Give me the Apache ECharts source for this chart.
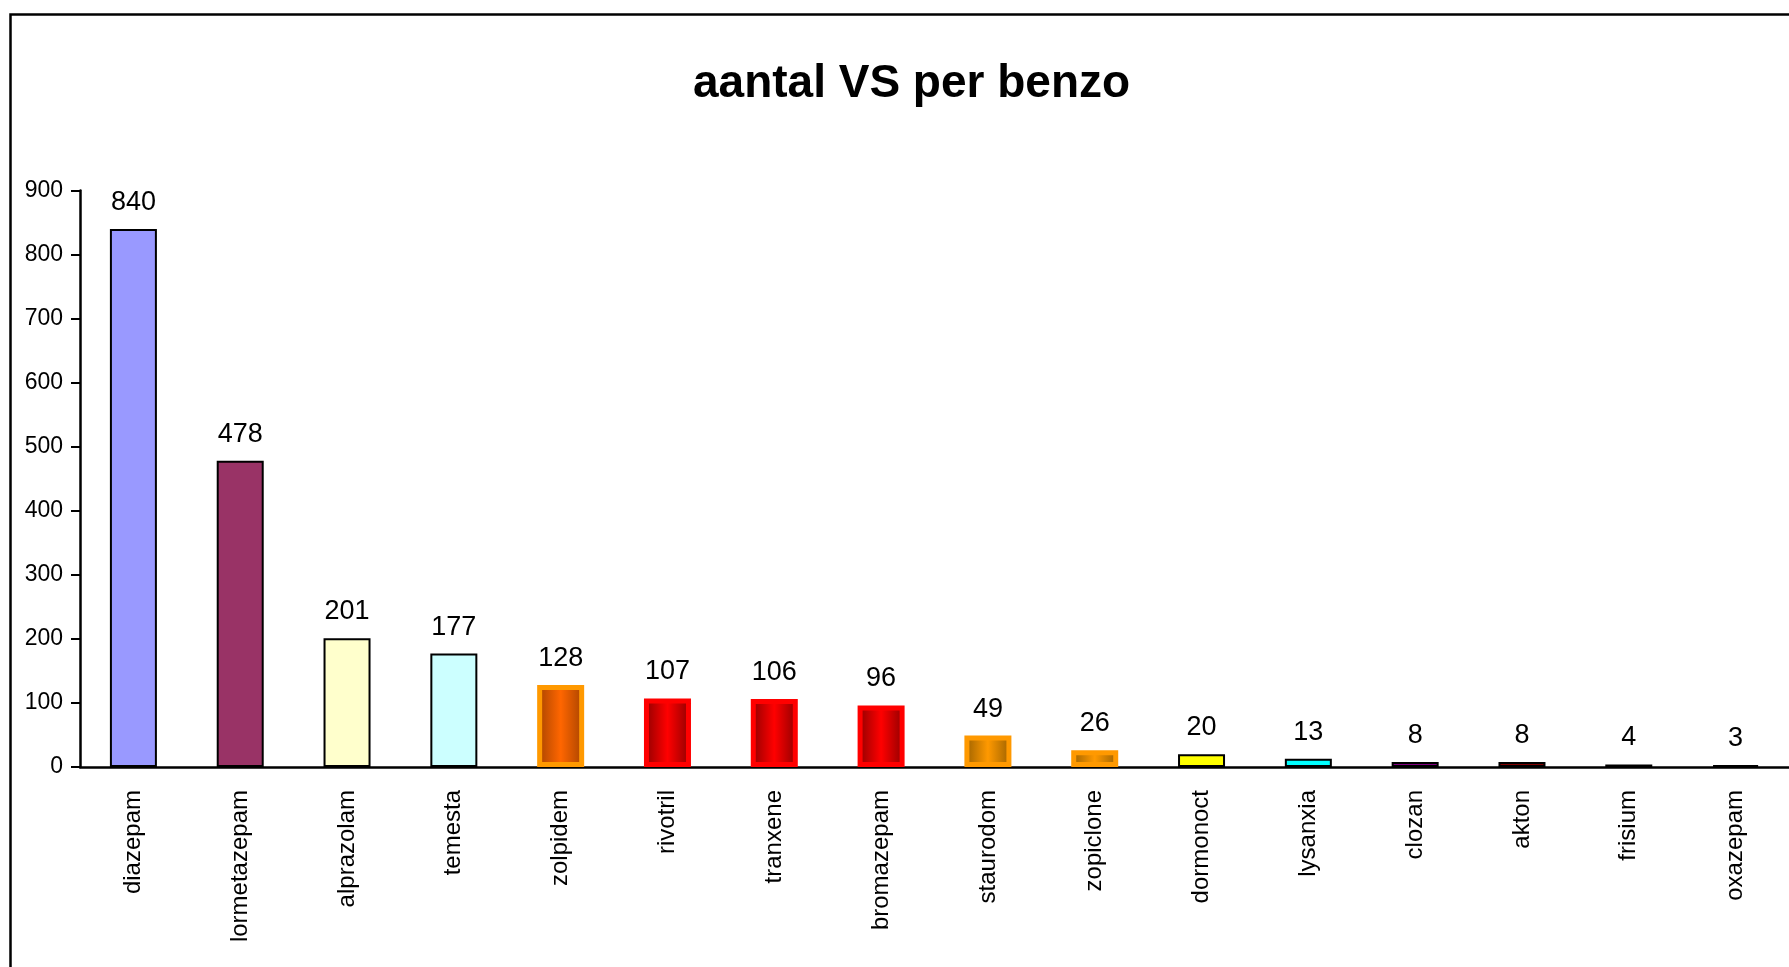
<!DOCTYPE html>
<html>
<head>
<meta charset="utf-8">
<title>aantal VS per benzo</title>
<script src="https://cdn.jsdelivr.net/npm/echarts@6/dist/echarts.min.js"></script>
<style>
    html, body { margin: 0; padding: 0; background: #fff; }
    #chart { width: 1789px; height: 967px; }
</style>
</head>
<body>
<div id="chart"></div>
<script>
// data
var categories = ['diazepam', 'lormetazepam', 'alprazolam', 'temesta', 'zolpidem', 'rivotril', 'tranxene', 'bromazepam',
    'staurodom', 'zopiclone', 'dormonoct', 'lysanxia', 'clozan', 'akton', 'frisium', 'oxazepam'];
var values = [840, 478, 201, 177, 128, 107, 106, 96, 49, 26, 20, 13, 8, 8, 4, 3];
var yTicks = [0, 100, 200, 300, 400, 500, 600, 700, 800, 900];

// bar looks, one per category
var barLooks = ['#9999FF', '#993366', '#FFFFCC', '#CCFFFF', 'orange', 'red', 'red', 'red',
    'gold', 'gold', '#FFFF00', '#00FFFF', '#800080', '#800000', '#993366', '#333399'];

(function () {
    'use strict';

    var arial = '"Liberation Sans", Arial, sans-serif';

    //横向渐变 (dark edge - bright middle - dark edge)
    function shade(edge, mid) {
        return new echarts.graphic.LinearGradient(0, 0, 1, 0, [
            { offset: 0, color: edge },
            { offset: 0.5, color: mid },
            { offset: 1, color: edge }
        ]);
    }

    function styleFor(look) {
        if (look === 'orange') {
            return { color: shade('#A64300', '#FF6600'), borderColor: '#FF9900', borderWidth: 5 };
        }
        if (look === 'red') {
            return { color: shade('#8C0000', '#FF0000'), borderColor: '#FF0000', borderWidth: 5 };
        }
        if (look === 'gold') {
            return { color: shade('#9A6000', '#FF9900'), borderColor: '#FF9900', borderWidth: 5 };
        }
        return { color: look, borderColor: '#000', borderWidth: 2 };
    }

    var data = [];
    for (var i = 0; i < values.length; i++) {
        data.push({ value: values[i], itemStyle: styleFor(barLooks[i]) });
    }

    var myChart = echarts.init(document.getElementById('chart'));

    var option = {
        animation: false,
        backgroundColor: '#fff',
        title: {
            text: 'aantal VS per benzo',
            left: 688,
            top: 56,
            textStyle: {
                fontFamily: arial,
                fontWeight: 'bold',
                fontSize: 46,
                color: '#000'
            }
        },
        graphic: [{
            type: 'rect',
            silent: true,
            shape: { x: 10.5, y: 14.5, width: 2000, height: 2000 },
            style: { fill: 'none', stroke: '#000', lineWidth: 2.5 }
        }],
        grid: {
            left: 80,
            top: 190.5,
            width: 1714,
            height: 576.5,
            containLabel: false
        },
        xAxis: {
            type: 'category',
            data: categories,
            axisLine: { lineStyle: { color: '#000', width: 2.5 } },
            axisTick: { length: 10, lineStyle: { color: '#000', width: 2 } },
            axisLabel: {
                rotate: 90,
                margin: 23,
                interval: 0,
                fontFamily: arial,
                fontSize: 24,
                color: '#000'
            }
        },
        yAxis: {
            type: 'value',
            min: yTicks[0],
            max: yTicks[yTicks.length - 1],
            interval: yTicks[1] - yTicks[0],
            splitLine: { show: false },
            axisLine: { show: true, lineStyle: { color: '#000', width: 2.5 } },
            axisTick: { show: true, length: 9, lineStyle: { color: '#000', width: 2 } },
            axisLabel: {
                margin: 17,
                fontFamily: arial,
                fontSize: 23,
                color: '#000'
            }
        },
        series: [{
            type: 'bar',
            data: data,
            barWidth: 47,
            label: {
                show: true,
                position: 'top',
                distance: 13,
                fontFamily: arial,
                fontSize: 27,
                color: '#000'
            }
        }]
    };

    myChart.setOption(option);
})();
</script>
</body>
</html>
